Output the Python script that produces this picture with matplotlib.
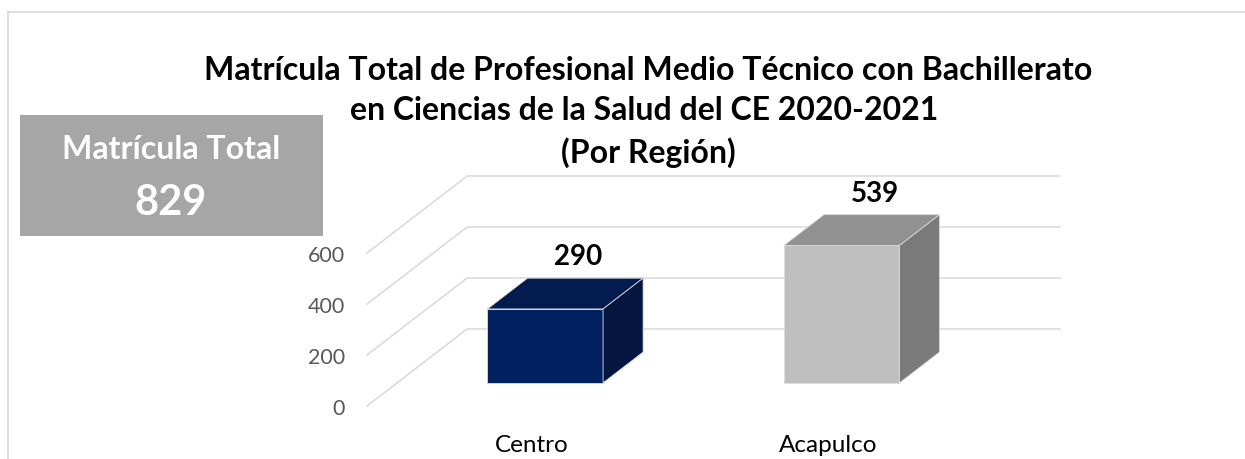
import matplotlib.pyplot as plt
from matplotlib.patches import Polygon, Rectangle
from matplotlib.lines import Line2D

plt.rcParams['font.family'] = ['Lato', 'DejaVu Sans']

# Data
regiones = ["Centro", "Acapulco"]
matricula = [290, 539]
total = 829
y_ticks = [0, 200, 400, 600]

# Colours per bar: front, top, side
front_cols = ["#002060", "#bfbfbf"]
top_cols = ["#031b4e", "#919191"]
side_cols = ["#041640", "#7a7a7a"]
grid_col = "#d9d9d9"

W, H = 1245, 460
fig = plt.figure(figsize=(W / 100, H / 100), dpi=100)

# fake 3D: depth offset of the back wall in data units
DX = 100 / 296          # category units
DY = 77 / 0.2548        # value units
t_front, t_back = 0.3, 0.7
bar_w = 0.39

ax = fig.add_axes([367 / W, (H - 407) / H, 693 / W, 230 / H])
ax.set_xlim(-0.5, 1.5 + DX)
ax.set_ylim(0, 600 + DY)
for s in ax.spines.values():
    s.set_visible(False)
ax.set_xticks([])
ax.set_yticks(y_ticks)
ax.set_yticklabels([str(t) for t in y_ticks])
ax.tick_params(axis="y", length=0, pad=16, labelsize=15.5, labelcolor="#595959")

# floor/wall gridlines: diagonal on the side wall, then across the back wall
for t in y_ticks:
    ax.plot([-0.5, -0.5 + DX, 1.5 + DX], [t, t + DY, t + DY],
            color=grid_col, lw=1.1, zorder=1, clip_on=False)

# bars
pos = [i + DX * t_front for i in range(len(regiones))]
fy = DY * t_front
ddx = DX * (t_back - t_front)
ddy = DY * (t_back - t_front)
ax.bar(pos, matricula, width=bar_w, bottom=fy, color=front_cols,
       edgecolor="#dcdcdc", linewidth=0.6, zorder=3)
for i, v in enumerate(matricula):
    x0 = pos[i] - bar_w / 2
    x1 = pos[i] + bar_w / 2
    top = [(x0, v + fy), (x1, v + fy), (x1 + ddx, v + fy + ddy), (x0 + ddx, v + fy + ddy)]
    side = [(x1, fy), (x1, v + fy), (x1 + ddx, v + fy + ddy), (x1 + ddx, fy + ddy)]
    ax.add_patch(Polygon(top, closed=True, facecolor=top_cols[i],
                         edgecolor="#dcdcdc", lw=0.6, zorder=3))
    ax.add_patch(Polygon(side, closed=True, facecolor=side_cols[i],
                         edgecolor="#dcdcdc", lw=0.6, zorder=3))
    # value label above the bar
    ax.annotate(str(v), xy=(i + DX * 0.63, v + DY * t_back), xytext=(0, 10),
                textcoords="offset points", ha="center", va="baseline",
                fontsize=20, fontweight="bold", color="black", annotation_clip=False)
    # category label
    ax.annotate(regiones[i], xy=(i + DX * 0.17, 0), xytext=(0, -32.5),
                textcoords="offset points", ha="center", va="baseline",
                fontsize=17.5, color="black", annotation_clip=False)

# title
fig.text(648 / W, (H - 163) / H,
         "Matrícula Total de Profesional Medio Técnico con Bachillerato\n"
         "en Ciencias de la Salud del CE 2020-2021 \n(Por Región)",
         ha="center", va="baseline", multialignment="center",
         fontsize=23, fontweight="bold", linespacing=1.47)

# total box
fig.patches.append(Rectangle((20 / W, (H - 237) / H), 303 / W, 121 / H,
                             transform=fig.transFigure, facecolor="#a6a6a6",
                             edgecolor="none", zorder=0))
fig.text(171 / W, (H - 159) / H, "Matrícula Total", ha="center", va="baseline",
         fontsize=23, fontweight="bold", color="white")
fig.text(171 / W, (H - 215) / H, str(total), ha="center", va="baseline",
         fontsize=30, fontweight="bold", color="white")

# chart frame
fig.add_artist(Line2D([7.5 / W, 1], [(H - 12.5) / H] * 2, color=grid_col, lw=1.2))
fig.add_artist(Line2D([7.5 / W] * 2, [0, (H - 12.5) / H], color=grid_col, lw=1.2))

fig.savefig("out.png", dpi=100)
